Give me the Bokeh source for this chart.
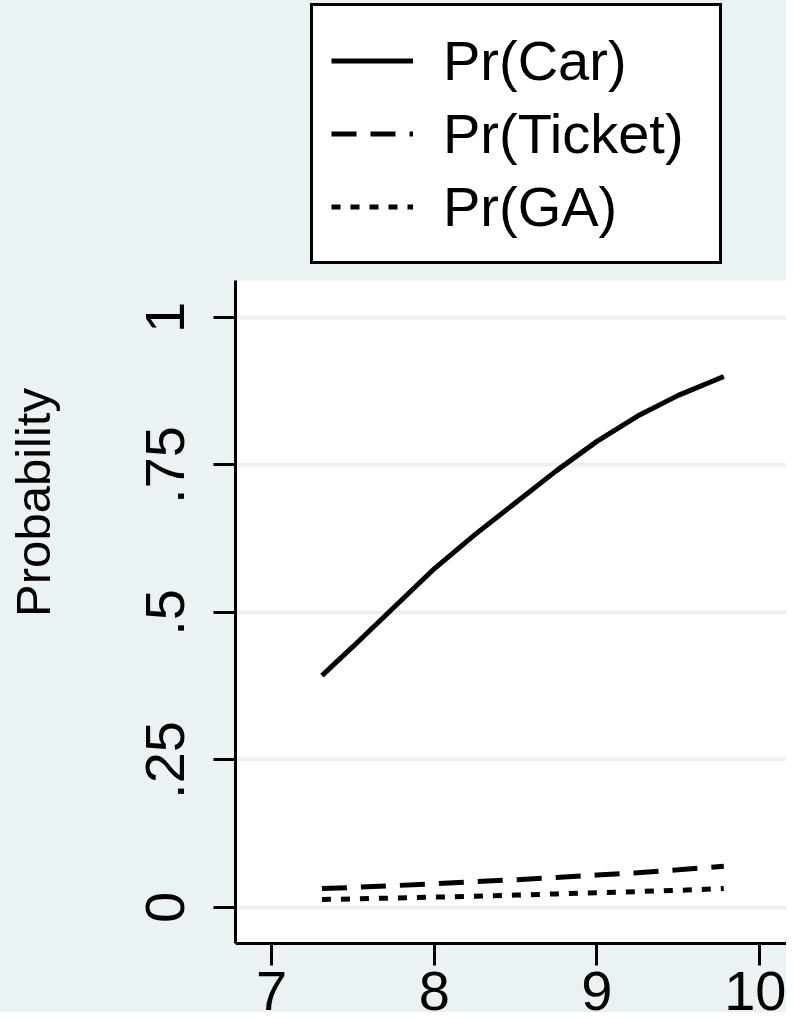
from bokeh.plotting import figure
from bokeh.models import Range1d, FixedTicker, Legend, LegendItem, BoxAnnotation
from bokeh.embed import file_html
from bokeh.resources import INLINE

# ---- data ----
x_vals = [7.31, 7.5, 7.75, 8.0, 8.25, 8.5, 8.75, 9.0, 9.25, 9.5, 9.78]
pr_car = [0.393, 0.442, 0.508, 0.574, 0.632, 0.686, 0.740, 0.790, 0.833, 0.868, 0.900]
pr_ticket = [0.032, 0.034, 0.037, 0.040, 0.044, 0.047, 0.051, 0.055, 0.059, 0.064, 0.070]
pr_ga = [0.0136, 0.0145, 0.016, 0.0175, 0.019, 0.021, 0.023, 0.025, 0.027, 0.029, 0.032]
series_names = ["Pr(Car)", "Pr(Ticket)", "Pr(GA)"]
x_ticks = [7, 8, 9, 10]
y_ticks = [0, 0.25, 0.5, 0.75, 1]
y_tick_labels = ["0", ".25", ".5", ".75", "1"]
y_title = "Probability"

BG = "#EAF2F3"
FONT = "Liberation Sans"
X_AXIS_AT = -0.061   # y value where the x axis line sits
Y_TOP = 1.0627       # top of the white plot region

p = figure(width=794, height=1020, output_backend="svg", toolbar_location=None,
           x_range=Range1d(6.7787, 10.1653), y_range=Range1d(-0.178, 1.5508),
           min_border_left=243, min_border_right=0, min_border_top=0,
           min_border_bottom=0)
p.margin = (-8, -8, -8, -8)
p.background_fill_color = BG
p.border_fill_color = BG
p.outline_line_color = None

# white plot region
p.add_layout(BoxAnnotation(bottom=X_AXIS_AT, top=Y_TOP, fill_color="white", fill_alpha=1,
                           line_color=None, level="image"))

r_car = p.line(x_vals, pr_car, line_color="black", line_width=5)
r_ticket = p.line(x_vals, pr_ticket, line_color="black", line_width=5, line_dash="25 14")
r_ga = p.line(x_vals, pr_ga, line_color="black", line_width=5, line_dash="9 10")

# grid
p.xgrid.visible = False
p.ygrid.ticker = FixedTicker(ticks=y_ticks)
p.ygrid.grid_line_color = BG
p.ygrid.grid_line_width = 4

# axes
for ax in (p.xaxis[0], p.yaxis[0]):
    ax.axis_line_width = 3
    ax.axis_line_color = "black"
    ax.major_tick_line_width = 3
    ax.major_tick_out = 22
    ax.major_tick_in = 0
    ax.minor_tick_line_color = None
    ax.major_label_text_font = FONT
    ax.major_label_text_font_size = "56px"
    ax.major_label_text_color = "black"

p.xaxis.ticker = FixedTicker(ticks=x_ticks)
p.xaxis.fixed_location = X_AXIS_AT
p.xaxis.major_label_standoff = 7

p.yaxis.ticker = FixedTicker(ticks=y_ticks)
p.yaxis.bounds = (X_AXIS_AT, Y_TOP)
p.yaxis.major_label_overrides = {t: l for t, l in zip(y_ticks, y_tick_labels)}
p.yaxis.major_label_orientation = "vertical"
p.yaxis.major_label_standoff = 29
p.yaxis.axis_label = y_title
p.yaxis.axis_label_text_font = FONT
p.yaxis.axis_label_text_font_size = "49px"
p.yaxis.axis_label_text_font_style = "normal"
p.yaxis.axis_label_text_color = "black"
p.yaxis.axis_label_standoff = 84

legend = Legend(items=[LegendItem(label=series_names[0], renderers=[r_car]),
                       LegendItem(label=series_names[1], renderers=[r_ticket]),
                       LegendItem(label=series_names[2], renderers=[r_ga])],
                location=(75, 748))
legend.border_line_color = "black"
legend.border_line_alpha = 1
legend.border_line_width = 3
legend.background_fill_color = "white"
legend.background_fill_alpha = 1
legend.label_text_font = FONT
legend.label_text_font_size = "56px"
legend.label_text_color = "black"
legend.glyph_width = 82
legend.glyph_height = 73
legend.label_height = 73
legend.label_width = 258
legend.label_standoff = 30
legend.padding = 18
legend.spacing = 0
legend.margin = 0
p.add_layout(legend, "center")

open("out.html", "w").write(file_html(p, INLINE))
